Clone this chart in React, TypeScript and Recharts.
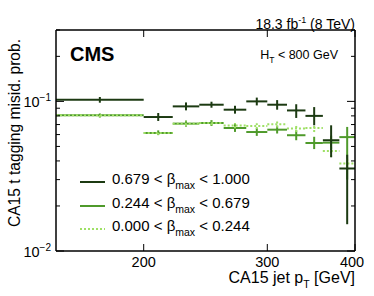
import React from "react";
import { ComposedChart, Scatter, ErrorBar, XAxis, YAxis } from "recharts";

// bins in CA15 jet pT [GeV]
const binLo = [150, 200, 220, 240, 260, 280, 300, 320, 340, 360, 380];
const binHi = [200, 220, 240, 260, 280, 300, 320, 340, 360, 380, 400];

// 0.679 < beta_max < 1.000
const darkVals = [0.1026, 0.0786, 0.0926, 0.095, 0.088, 0.1, 0.095, 0.087, 0.08, 0.055, 0.0356];
const darkLo = [0.098, 0.074, 0.0871, 0.0907, 0.0828, 0.094, 0.088, 0.0775, 0.0692, 0.0423, 0.0151];
const darkHi = [0.107, 0.0836, 0.0984, 0.0995, 0.0935, 0.106, 0.102, 0.0957, 0.0916, 0.0692, 0.044];

// 0.244 < beta_max < 0.679
const medVals = [0.0807, 0.0615, 0.071, 0.0717, 0.0664, 0.0624, 0.0647, 0.0594, 0.0527, 0.053, 0.0577];
const medLo = [0.078, 0.0595, 0.0678, 0.0685, 0.0625, 0.0588, 0.061, 0.055, 0.048, 0.0475, 0.03];
const medHi = [0.083, 0.064, 0.0745, 0.075, 0.0705, 0.0662, 0.0688, 0.064, 0.058, 0.059, 0.0675];

// 0.000 < beta_max < 0.244
const lightVals = [0.0807, 0.0615, 0.071, 0.0717, 0.069, 0.0685, 0.0703, 0.066, 0.0664, 0.0466, 0.0384];
const lightLo = [0.0785, 0.0598, 0.0685, 0.0692, 0.0662, 0.0655, 0.067, 0.0625, 0.0625, 0.0425, 0.0355];
const lightHi = [0.083, 0.0632, 0.0735, 0.0742, 0.0718, 0.0715, 0.0736, 0.0695, 0.0705, 0.0508, 0.0415];

const xTicks = [200, 300, 400];
const yTicks = [0.01, 0.02, 0.03, 0.04, 0.05, 0.06, 0.07, 0.08, 0.09, 0.1, 0.2, 0.3];

const DARK = "#1c3a12";
const MED = "#4f9a2b";
const LIGHT = "#9fe066";
const FONT = "'Liberation Sans', Arial, Helvetica, sans-serif";

function build(vals: number[], lo: number[], hi: number[]) {
  return vals.map((v, i) => {
    const x = Math.sqrt(binLo[i] * binHi[i]);
    return { x, y: v, ex: [x - binLo[i], binHi[i] - x], ey: [v - lo[i], hi[i] - v] };
  });
}

const darkData = build(darkVals, darkLo, darkHi);
const medData = build(medVals, medLo, medHi);
const lightData = build(lightVals, lightLo, lightHi);

const isMajor = (v: number) => Math.abs(v - 0.1) < 1e-9 || Math.abs(v - 0.01) < 1e-9;

function LeftTick({ x, y, payload }: any) {
  const major = isMajor(payload.value);
  return (
    <g>
      <line x1={x} x2={x + (major ? 8 : 4)} y1={y} y2={y} stroke="#000" strokeWidth={1} />
      {major && (
        <text x={x - 5} y={y + 5.5} textAnchor="end" fontSize={14.5} fontFamily={FONT} fill="#000">
          <tspan>10</tspan>
          <tspan dy={-6} fontSize={10}>{payload.value === 0.1 ? "\u22121" : "\u22122"}</tspan>
        </text>
      )}
    </g>
  );
}

function RightTick({ x, y, payload }: any) {
  const major = isMajor(payload.value);
  return <line x1={x} x2={x - (major ? 8 : 4)} y1={y} y2={y} stroke="#000" strokeWidth={1} />;
}

function BottomTick({ x, y, payload }: any) {
  return (
    <g>
      <line x1={x} x2={x} y1={y} y2={y - 7} stroke="#000" strokeWidth={1} />
      <text x={payload.value === 400 ? x - 3 : x} y={y + 16} textAnchor="middle" fontSize={14.5} fontFamily={FONT} fill="#000">
        {payload.value}
      </text>
    </g>
  );
}

function TopTick({ x, y }: any) {
  return <line x1={x} x2={x} y1={y} y2={y + 7} stroke="#000" strokeWidth={1} />;
}

const noDot = () => <g />;

function LegendRow({ top, color, dashed, lo, hi }: { top: number; color: string; dashed?: boolean; lo: string; hi: string }) {
  return (
    <div style={{ position: "absolute", left: 80, top: top - 8, height: 16, display: "flex", alignItems: "center", fontFamily: FONT, fontSize: 15, lineHeight: "16px", whiteSpace: "nowrap" }}>
      <svg width={25} height={4} style={{ marginRight: 7 }}>
        <line x1={0} x2={25} y1={2} y2={2} stroke={color} strokeWidth={2} strokeDasharray={dashed ? "2 2" : undefined} />
      </svg>
      <span>
        {lo} &lt; β<sub style={{ fontSize: 10.5, verticalAlign: "-5px" }}>max</sub> &lt; {hi}
      </span>
    </div>
  );
}

export default function App() {
  return (
    <div style={{ position: "absolute", left: 0, top: 0, width: 374, height: 296, background: "#fff" }}>
      <ComposedChart width={374} height={296} margin={{ top: 0, right: 0, bottom: 0, left: 0 }}>
        <XAxis
          xAxisId="b"
          dataKey="x"
          type="number"
          scale="log"
          domain={[150, 400]}
          allowDataOverflow
          ticks={xTicks}
          height={45}
          tickSize={0}
          tickMargin={0}
          tick={<BottomTick />}
          axisLine={{ stroke: "#000", strokeWidth: 1.5 }}
        />
        <XAxis
          xAxisId="t"
          orientation="top"
          dataKey="x"
          type="number"
          scale="log"
          domain={[150, 400]}
          allowDataOverflow
          ticks={xTicks}
          height={30}
          tickSize={0}
          tickMargin={0}
          tick={<TopTick />}
          axisLine={{ stroke: "#000", strokeWidth: 1.5 }}
        />
        <YAxis
          yAxisId="l"
          dataKey="y"
          type="number"
          scale="log"
          domain={[0.01, 0.3]}
          allowDataOverflow
          ticks={yTicks}
          width={56}
          tickSize={0}
          tickMargin={0}
          tick={<LeftTick />}
          axisLine={{ stroke: "#000", strokeWidth: 1.5 }}
          interval={0}
        />
        <YAxis
          yAxisId="r"
          orientation="right"
          dataKey="y"
          type="number"
          scale="log"
          domain={[0.01, 0.3]}
          allowDataOverflow
          ticks={yTicks}
          width={19}
          tickSize={0}
          tickMargin={0}
          tick={<RightTick />}
          axisLine={{ stroke: "#000", strokeWidth: 1.5 }}
          interval={0}
        />
        <Scatter xAxisId="b" yAxisId="l" data={medData} dataKey="y" shape={noDot} isAnimationActive={false}>
          <ErrorBar dataKey="ex" direction="x" width={0} stroke={MED} strokeWidth={2} isAnimationActive={false} />
          <ErrorBar dataKey="ey" direction="y" width={0} stroke={MED} strokeWidth={2} isAnimationActive={false} />
        </Scatter>
        <Scatter xAxisId="b" yAxisId="l" data={lightData} dataKey="y" shape={noDot} isAnimationActive={false}>
          <ErrorBar dataKey="ex" direction="x" width={0} stroke={LIGHT} strokeWidth={2} strokeDasharray="2 2" isAnimationActive={false} />
          <ErrorBar dataKey="ey" direction="y" width={0} stroke={LIGHT} strokeWidth={2} strokeDasharray="2 2" isAnimationActive={false} />
        </Scatter>
        <Scatter xAxisId="b" yAxisId="l" data={darkData} dataKey="y" shape={noDot} isAnimationActive={false}>
          <ErrorBar dataKey="ex" direction="x" width={0} stroke={DARK} strokeWidth={2} isAnimationActive={false} />
          <ErrorBar dataKey="ey" direction="y" width={0} stroke={DARK} strokeWidth={2} isAnimationActive={false} />
        </Scatter>
      </ComposedChart>

      {/* header texts */}
      <div style={{ position: "absolute", right: 19, top: 13, fontFamily: FONT, fontSize: 14, lineHeight: "14px", whiteSpace: "nowrap" }}>
        18.3 fb<sup style={{ fontSize: 9, verticalAlign: "6px" }}>-1</sup> (8 TeV)
      </div>
      <div style={{ position: "absolute", left: 70, top: 44, fontFamily: FONT, fontSize: 20, fontWeight: "bold", lineHeight: "20px" }}>CMS</div>
      <div style={{ position: "absolute", right: 36, top: 48.5, fontFamily: FONT, fontSize: 12.5, lineHeight: "12.5px", whiteSpace: "nowrap" }}>
        H<sub style={{ fontSize: 8.5, verticalAlign: "-4px" }}>T</sub> &lt; 800 GeV
      </div>

      <LegendRow top={182} color={DARK} lo="0.679" hi="1.000" />
      <LegendRow top={206} color={MED} lo="0.244" hi="0.679" />
      <LegendRow top={229} color={LIGHT} dashed lo="0.000" hi="0.244" />

      {/* axis titles */}
      <div style={{ position: "absolute", right: 19, top: 270, fontFamily: FONT, fontSize: 16, lineHeight: "16px", whiteSpace: "nowrap" }}>
        CA15 jet p<sub style={{ fontSize: 10.5, verticalAlign: "-5px" }}>T</sub> [GeV]
      </div>
      <div
        style={{
          position: "absolute",
          left: 15,
          top: 133,
          transform: "translate(-50%, -50%) rotate(-90deg)",
          fontFamily: FONT,
          fontSize: 15.6,
          lineHeight: "16px",
          whiteSpace: "nowrap",
        }}
      >
        CA15 t tagging misid. prob.
      </div>
    </div>
  );
}
